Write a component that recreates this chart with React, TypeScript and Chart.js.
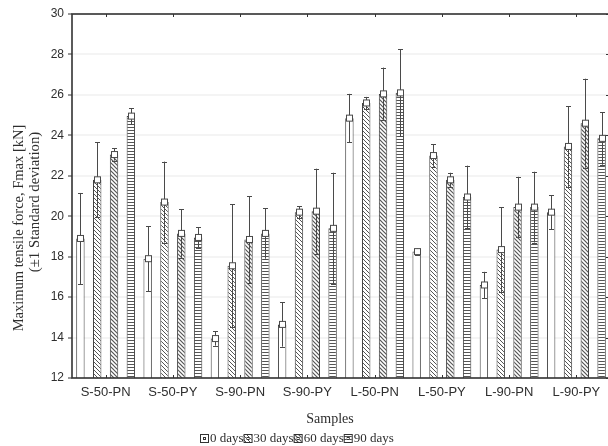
import React, { useEffect, useRef } from "react";
import { Chart, registerables } from "chart.js";

Chart.register(...registerables);

const categories = ["S-50-PN", "S-50-PY", "S-90-PN", "S-90-PY", "L-50-PN", "L-50-PY", "L-90-PN", "L-90-PY"];
const seriesNames = ["0 days", "30 days", "60 days", "90 days"];

const days0Mean = [18.9, 17.9, 13.95, 14.65, 24.85, 18.25, 16.6, 20.2];
const days30Mean = [21.8, 20.7, 17.55, 20.2, 25.6, 23.0, 18.35, 23.45];
const days60Mean = [23.05, 19.15, 18.85, 20.25, 26.05, 21.8, 20.45, 24.6];
const days90Mean = [24.95, 18.95, 19.15, 19.4, 26.1, 20.95, 20.45, 23.85];

const days0Sd = [2.25, 1.6, 0.35, 1.1, 1.2, 0.15, 0.65, 0.85];
const days30Sd = [1.85, 2.0, 3.05, 0.3, 0.3, 0.55, 2.1, 2.0];
const days60Sd = [0.3, 1.2, 2.15, 2.1, 1.3, 0.35, 1.5, 2.2];
const days90Sd = [0.4, 0.5, 1.25, 2.75, 2.15, 1.55, 1.75, 1.3];

const yTitleLines = ["Maximum tensile force, Fmax [kN]", "(\u00B11 Standard deviation)"];
const xTitle = "Samples";

const SANS = "'Liberation Sans', Arial, sans-serif";
const SERIF = "'Liberation Serif', 'Times New Roman', serif";
const INK = "#2e2e2e";

function makePattern(kind: string): CanvasPattern | string {
  const c = document.createElement("canvas");
  const size = kind === "h" ? 3 : 4;
  c.width = 4;
  c.height = size;
  const g = c.getContext("2d");
  if (!g) return "#fff";
  g.fillStyle = "#ffffff";
  g.fillRect(0, 0, c.width, c.height);
  g.strokeStyle = "#555";
  g.lineWidth = 1;
  if (kind === "d" || kind === "d2") {
    g.lineWidth = kind === "d2" ? 1.2 : 1;
    g.beginPath();
    g.moveTo(-1, -1);
    g.lineTo(5, 5);
    g.moveTo(-1, 3);
    g.lineTo(1, 5);
    g.moveTo(3, -1);
    g.lineTo(5, 1);
    g.stroke();
  } else if (kind === "h") {
    g.beginPath();
    g.moveTo(0, 1.5);
    g.lineTo(4, 1.5);
    g.stroke();
  }
  const p = g.createPattern(c, "repeat");
  return p || "#fff";
}

export default function App() {
  const ref = useRef<HTMLCanvasElement | null>(null);

  useEffect(() => {
    const canvas = ref.current;
    if (!canvas) return;
    const fills = [makePattern("none"), makePattern("d"), makePattern("d2"), makePattern("h")];
    const means = [days0Mean, days30Mean, days60Mean, days90Mean];
    const sds = [days0Sd, days30Sd, days60Sd, days90Sd];

    const decor = {
      id: "decor",
      beforeDraw(chart: any) {
        const ctx = chart.ctx;
        ctx.save();
        ctx.fillStyle = "#ffffff";
        ctx.fillRect(0, 0, chart.width, chart.height);
        ctx.restore();
      },
      afterDatasetsDraw(chart: any) {
        const ctx = chart.ctx;
        const ys = chart.scales.y;
        ctx.save();
        chart.data.datasets.forEach((ds: any, di: number) => {
          const meta = chart.getDatasetMeta(di);
          meta.data.forEach((bar: any, i: number) => {
            const m = ds.data[i];
            const s = sds[di][i];
            const x = Math.round(bar.x) + 0.5;
            const yT = ys.getPixelForValue(m + s);
            const yB = ys.getPixelForValue(m - s);
            const yM = ys.getPixelForValue(m);
            ctx.strokeStyle = "#4a4a4a";
            ctx.lineWidth = 1;
            ctx.beginPath();
            ctx.moveTo(x, yB);
            ctx.lineTo(x, yT);
            ctx.moveTo(x - 2.5, Math.round(yT) + 0.5);
            ctx.lineTo(x + 2.5, Math.round(yT) + 0.5);
            ctx.moveTo(x - 2.5, Math.round(yB) + 0.5);
            ctx.lineTo(x + 2.5, Math.round(yB) + 0.5);
            ctx.stroke();
            ctx.fillStyle = "#ffffff";
            ctx.fillRect(x - 3, yM - 3, 6, 6);
            ctx.strokeRect(x - 3, yM - 3, 6, 6);
          });
        });
        ctx.restore();
      },
      afterDraw(chart: any) {
        const ctx = chart.ctx;
        const a = chart.chartArea;
        const xs = chart.scales.x;
        const ys = chart.scales.y;
        ctx.save();
        ctx.strokeStyle = "#333";
        ctx.lineWidth = 1.6;
        ctx.strokeRect(a.left, a.top, a.right - a.left, a.bottom - a.top);
        ctx.lineWidth = 1;
        ctx.beginPath();
        for (let i = 0; i < categories.length; i++) {
          const x = Math.round(xs.getPixelForValue(i)) + 0.5;
          ctx.moveTo(x, a.top);
          ctx.lineTo(x, a.top + 3);
          ctx.moveTo(x, a.bottom);
          ctx.lineTo(x, a.bottom - 3);
        }
        for (let v = 12; v <= 30; v += 2) {
          const y = Math.round(ys.getPixelForValue(v)) + 0.5;
          ctx.moveTo(a.right, y);
          ctx.lineTo(a.right - 4, y);
        }
        ctx.stroke();

        ctx.fillStyle = INK;
        ctx.textAlign = "center";
        ctx.textBaseline = "middle";
        ctx.font = "14.5px " + SERIF;
        ctx.save();
        ctx.translate(19, 228);
        ctx.rotate(-Math.PI / 2);
        ctx.fillText(yTitleLines[0], 0, 0);
        ctx.restore();
        ctx.font = "14.8px " + SERIF;
        ctx.save();
        ctx.translate(35, 202);
        ctx.rotate(-Math.PI / 2);
        ctx.fillText(yTitleLines[1], 0, 0);
        ctx.restore();

        ctx.font = "14px " + SERIF;
        ctx.fillText(xTitle, 330, 419);

        ctx.font = "13px " + SERIF;
        ctx.textAlign = "left";
        const gap = 0;
        const box = 8;
        const widths = seriesNames.map((n) => box + 2 + ctx.measureText(n).width);
        const total = widths.reduce((p, q) => p + q, 0) + gap * (seriesNames.length - 1);
        let lx = Math.round(297 - total / 2);
        const ly = 438;
        seriesNames.forEach((n, i) => {
          ctx.fillStyle = fills[i] as any;
          ctx.fillRect(lx, ly - box / 2, box, box);
          ctx.strokeStyle = "#333";
          ctx.lineWidth = 1;
          ctx.strokeRect(lx + 0.5, ly - box / 2 + 0.5, box, box);
          ctx.fillStyle = "#fff";
          ctx.fillRect(lx + 3, ly - 1, 3, 3);
          ctx.strokeRect(lx + 3.5, ly - 0.5, 2, 2);
          ctx.fillStyle = INK;
          ctx.fillText(n, lx + box + 2, ly + 0.5);
          lx += widths[i] + gap;
        });
        ctx.restore();
      },
    };

    const chart = new Chart(canvas, {
      type: "bar",
      data: {
        labels: categories,
        datasets: seriesNames.map((name, i) => ({
          label: name,
          data: means[i],
          backgroundColor: fills[i] as any,
          borderColor: "#404040",
          borderWidth: 1,
          barPercentage: 0.5,
          categoryPercentage: 1.0,
        })),
      },
      options: {
        responsive: false,
        animation: false,
        devicePixelRatio: 1,
        layout: { padding: { top: 14, right: 2, left: 0, bottom: 0 } },
        plugins: {
          legend: { display: false },
          tooltip: { enabled: false },
        },
        scales: {
          x: {
            grid: { display: false, drawTicks: false },
            border: { display: false },
            ticks: {
              font: { family: SANS, size: 13 },
              color: INK,
              padding: 7,
              maxRotation: 0,
              autoSkip: false,
            },
            afterFit: (s: any) => {
              s.height = 68;
            },
          },
          y: {
            min: 12,
            max: 30,
            ticks: {
              stepSize: 2,
              font: { family: SANS, size: 12 },
              color: INK,
              padding: 4,
            },
            grid: {
              drawOnChartArea: true,
              color: "rgba(0,0,0,0.045)",
              lineWidth: 2,
              tickLength: 4,
              tickColor: "#333",
              tickWidth: 1,
            },
            border: { display: false },
            afterFit: (s: any) => {
              s.width = 72;
            },
          },
        },
      },
      plugins: [decor],
    });

    return () => {
      chart.destroy();
    };
  }, []);

  return (
    <div
      style={{
        position: "fixed",
        left: 0,
        top: 0,
        width: 608,
        height: 446,
        overflow: "hidden",
        background: "#fff",
      }}
    >
      <canvas ref={ref} width={612} height={446} style={{ display: "block", width: 612, height: 446 }} />
    </div>
  );
}
